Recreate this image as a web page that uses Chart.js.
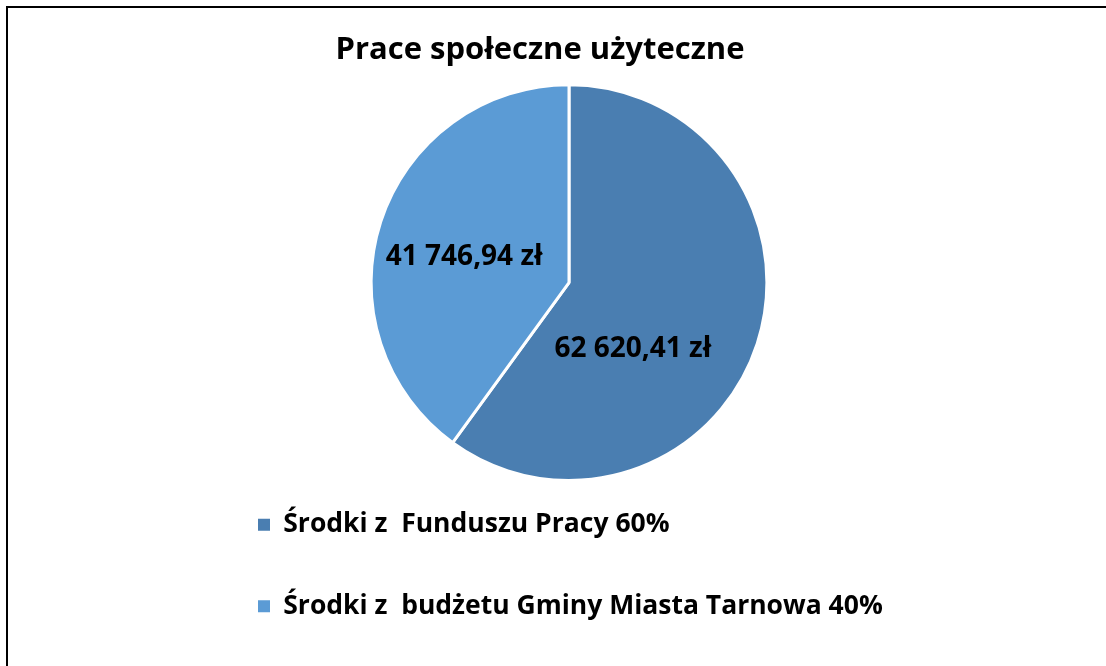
<!DOCTYPE html>
<html>
<head>
<meta charset="utf-8">
<script src="https://cdn.jsdelivr.net/npm/chart.js@4/dist/chart.umd.min.js"></script>
<style>
  html, body { margin: 0; padding: 0; background: #fff; }
  #frame { position: absolute; left: 6px; top: 6px; width: 1200px; height: 800px;
           border-top: 2px solid #000; border-left: 2px solid #000; }
  #wrap { position: absolute; left: 0; top: 0; width: 1106px; height: 666px; }
</style>
</head>
<body>
<div id="frame"></div>
<div id="wrap"><canvas id="myChart"></canvas></div>
<script>
/* dane wykresu */
var chartTitle = 'Prace społeczne użyteczne';
var categories = ['Środki z  Funduszu Pracy 60%', 'Środki z  budżetu Gminy Miasta Tarnowa 40%'];
var amounts = [62620.41, 41746.94];
var sliceColors = ['#4A7EB1', '#5B9BD5'];

/* format kwoty: 62 620,41 zł */
function formatZl(v){
	var parts = v.toFixed(2).split('.');
	var intPart = parts[0].replace(/\B(?=(\d{3})+(?!\d))/g, ' ');
	return intPart + ',' + parts[1] + ' zł';
}

/* przesuniecie kola i tytulu (jak w oryginale) */
var pieArea = {
	id: 'pieArea',
	afterLayout: function(chart){
		var a = chart.chartArea;
		a.right -= 41;
		a.top -= 2;
		a.bottom += 25.5;
		a.width = a.right - a.left;
		a.height = a.bottom - a.top;
		var t = chart.titleBlock;
		t.left -= 49.5;
		t.right -= 49.5;
	}
};

/* etykiety z kwotami na wycinkach */
var labelPlace = [[0.63, 0.465], [0.47, 0.545]];
var sliceLabels = {
	id: 'sliceLabels',
	afterDatasetsDraw: function(chart){
		var ctx = chart.ctx;
		var meta = chart.getDatasetMeta(0);
		ctx.save();
		ctx.font = 'bold 28px "Open Sans"';
		ctx.fillStyle = '#000';
		ctx.textAlign = 'center';
		ctx.textBaseline = 'middle';
		meta.data.forEach(function(arc, i){
			var p = arc.getProps(['x', 'y', 'startAngle', 'endAngle', 'outerRadius'], true);
			var ang = p.startAngle + labelPlace[i][0] * (p.endAngle - p.startAngle);
			var r = labelPlace[i][1] * p.outerRadius;
			ctx.fillText(formatZl(chart.data.datasets[0].data[i]), p.x + Math.cos(ang) * r, p.y + Math.sin(ang) * r);
		});
		ctx.restore();
	}
};

function createChart(){
	var ctx = document.getElementById('myChart').getContext('2d');
	var myChart = new Chart(ctx, {
		type: 'pie',
		data: {
			labels: categories,
			datasets: [{
				data: amounts,
				backgroundColor: sliceColors,
				borderColor: '#ffffff',
				borderWidth: 3,
				hoverOffset: 0
			}]
		},
		plugins: [pieArea, sliceLabels],
		options: {
			responsive: true,
			maintainAspectRatio: false,
			animation: false,
			layout: { padding: { top: 22, left: 203, right: 130, bottom: 36.5 } },
			plugins: {
				title: {
					display: true,
					text: chartTitle,
					color: '#000',
					font: { family: '"Open Sans"', size: 31, weight: 'bold' },
					padding: { top: 10, bottom: 16 }
				},
				legend: {
					position: 'bottom',
					align: 'start',
					labels: {
						color: '#000',
						font: { family: '"Open Sans"', size: 26.5, weight: 'bold' },
						boxWidth: 12,
						boxHeight: 12,
						padding: 55,
						generateLabels: function(chart){
							return Chart.overrides.pie.plugins.legend.labels.generateLabels(chart).map(function(l){
								l.lineWidth = 0;
								return l;
							});
						}
					}
				},
				tooltip: { enabled: false }
			}
		}
	});
}

createChart();
</script>
</body>
</html>
